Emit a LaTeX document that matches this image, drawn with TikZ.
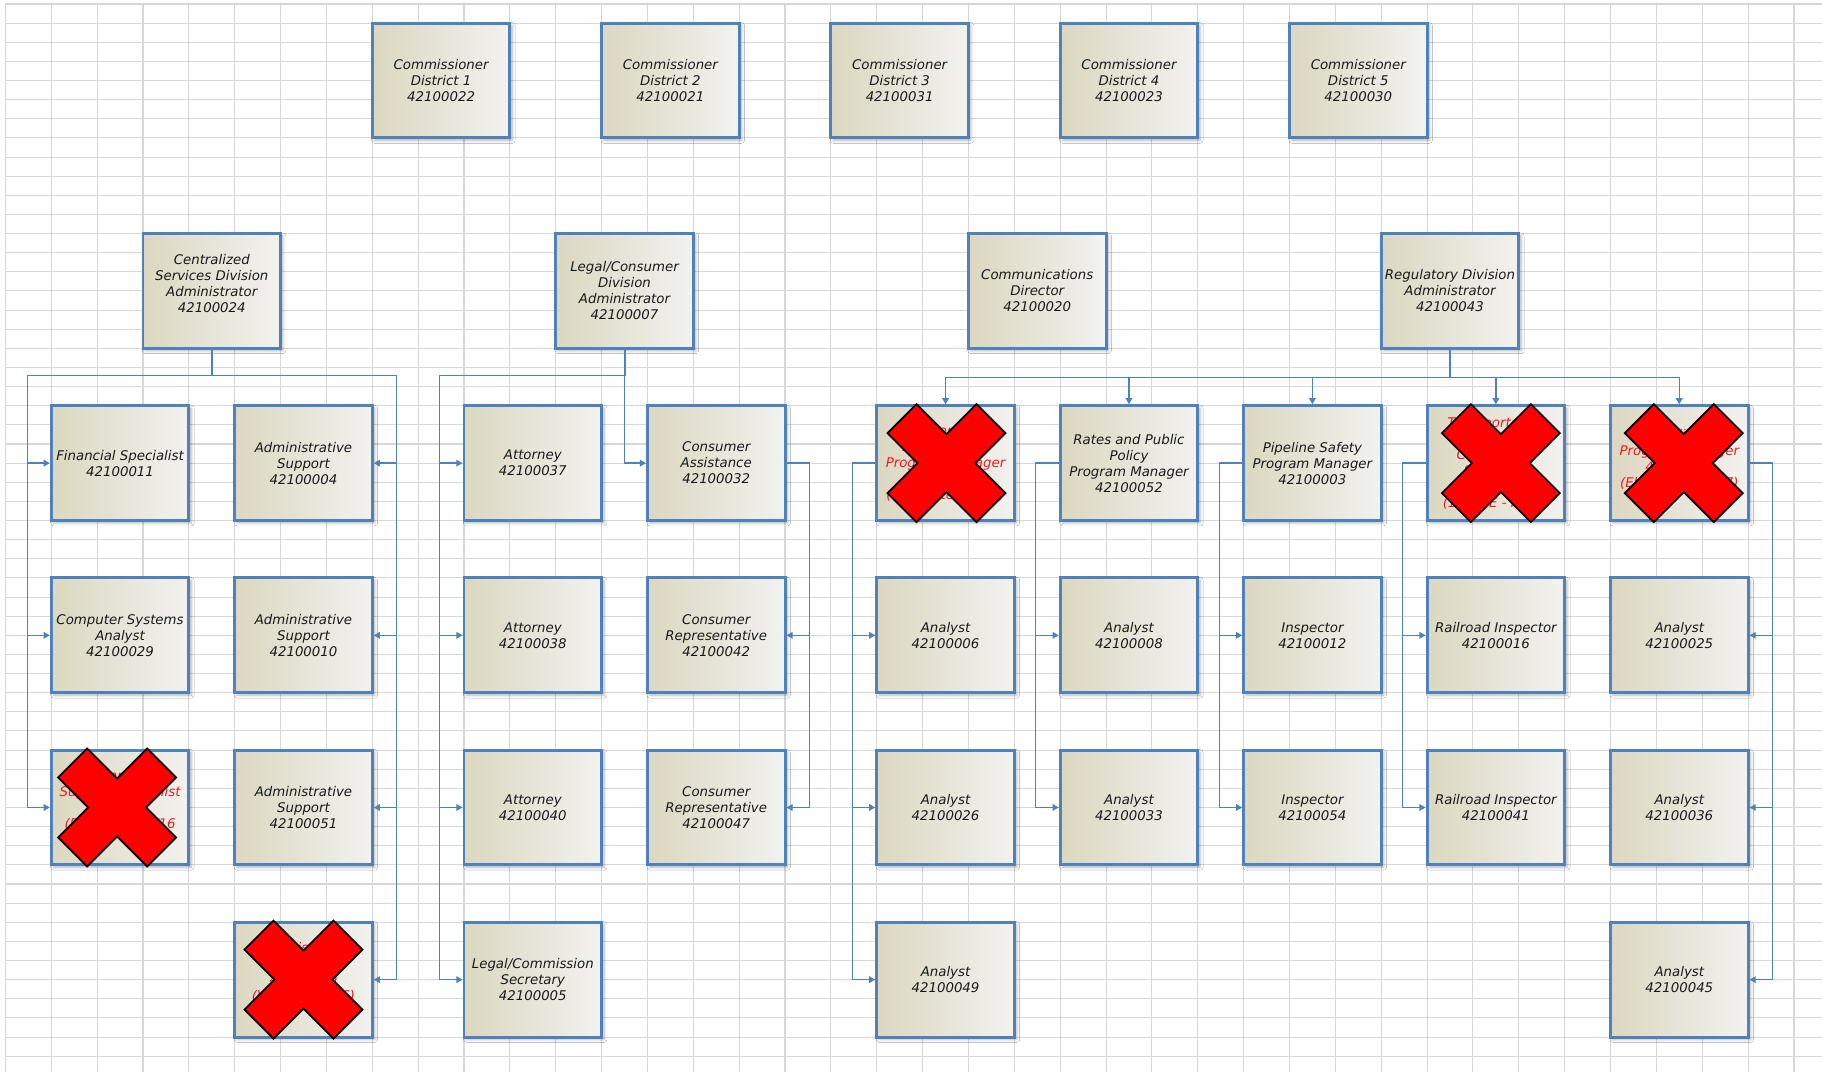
\documentclass[tikz,border=0pt]{standalone}
\usepackage{fontspec}
\setmainfont{DejaVu Sans}
\usetikzlibrary{arrows.meta,shadows.blur,calc}
\definecolor{bblue}{RGB}{79,129,189}
\definecolor{gridc}{RGB}{216,216,216}
\definecolor{tanL}{RGB}{219,215,192}
\definecolor{tanR}{RGB}{242,242,240}
\definecolor{txt}{RGB}{25,25,25}
\definecolor{xred}{RGB}{255,0,0}
\definecolor{rtxt}{RGB}{245,25,25}
\tikzset{
  orgbox/.style={draw=bblue, line width=2.2pt, left color=tanL, right color=tanR,
    minimum width=103.2pt, minimum height=86.1pt, inner sep=0pt, align=center,
    text=txt, font=\itshape\fontsize{10}{12}\selectfont,
    blur shadow={shadow xshift=1.8pt, shadow yshift=-1.8pt, shadow blur radius=2.2pt, shadow opacity=30}},
  redtext/.style={text=rtxt},
  gridline/.style={draw=gridc, line width=0.8pt},
  conn/.style={draw=bblue, line width=0.95pt},
  trunk/.style={draw=bblue, line width=1.5pt},
  arr/.style={conn, -{Triangle[length=4.6pt, width=5pt]}},
  xmark/.style={fill=xred, draw=black, line width=1.3pt, line join=miter},
}
\newcommand\mkbox[5][]{\node[orgbox,#1] (#2) at ({5.4+45.86*(#3+1.5)},{4+19.13*(#4+3)}) {#5};}
\newcommand\xmarkat[2]{\draw[xmark, shift={($(#1.center)+(#2,0)$)}] (-59,-30) -- (-30,-59) -- (0,-29) -- (30,-59) -- (59,-30) -- (29,0) -- (59,30) -- (30,59) -- (0,29) -- (-30,59) -- (-59,30) -- (-29,0) -- cycle;}
\begin{document}
\begin{tikzpicture}[x=0.75pt,y=-0.75pt]
\fill[white] (0,0) rectangle (1822,1072);
\useasboundingbox (0,0) rectangle (1822,1072);
% grid
\foreach \k in {0,...,39} \draw[gridline] ({5.4+45.86*\k},4) -- ({5.4+45.86*\k},1072);
\foreach \j in {0,...,55} \draw[gridline] (5.4,{4+19.13*\j}) -- (1822,{4+19.13*\j});

% commissioners
\mkbox{c1}{8}{1}{Commissioner\\District 1\\42100022}
\mkbox{c2}{13}{1}{Commissioner\\District 2\\42100021}
\mkbox{c3}{18}{1}{Commissioner\\District 3\\42100031}
\mkbox{c4}{23}{1}{Commissioner\\District 4\\42100023}
\mkbox{c5}{28}{1}{Commissioner\\District 5\\42100030}

% division heads
\mkbox{cen}{3}{12}{Centralized\\Services Division\\Administrator\\42100024\\ \mbox{}}
\mkbox{leg}{12}{12}{Legal/Consumer\\Division\\Administrator\\42100007}
\mkbox{com}{21}{12}{Communications\\Director\\42100020}
\mkbox{reg}{30}{12}{Regulatory Division\\Administrator\\42100043}

% centralized staff
\mkbox{a1}{1}{21}{Financial Specialist\\42100011}
\mkbox{a2}{1}{30}{Computer Systems\\Analyst\\42100029}
\mkbox[redtext]{a3}{1}{39}{Computer\\Support Specialist\\(vacant)\\(Effective 7/1/16\\ \mbox{}}
\mkbox{b1}{5}{21}{Administrative\\Support\\42100004}
\mkbox{b2}{5}{30}{Administrative\\Support\\42100010}
\mkbox{b3}{5}{39}{Administrative\\Support\\42100051}
\mkbox[redtext]{b4}{5}{48}{Administrative\\Support\\42100050\\(Vacant 7/1/16)\\ \mbox{}}

% legal staff
\mkbox{d1c}{10}{21}{Attorney\\42100037}
\mkbox{d2c}{10}{30}{Attorney\\42100038}
\mkbox{d3c}{10}{39}{Attorney\\42100040}
\mkbox{d4c}{10}{48}{Legal/Commission\\Secretary\\42100005}
\mkbox{ca1}{14}{21}{Consumer\\Assistance\\42100032}
\mkbox{ca2}{14}{30}{Consumer\\Representative\\42100042}
\mkbox{ca3}{14}{39}{Consumer\\Representative\\42100047}

% regulatory staff
\mkbox[redtext]{e1}{19}{21}{Energy\\Tech Services\\Program Manager\\42100044\\(Eliminated FY17)}
\mkbox{e2}{19}{30}{Analyst\\42100006}
\mkbox{e3}{19}{39}{Analyst\\42100026}
\mkbox{e4}{19}{48}{Analyst\\42100049}
\mkbox{f1}{23}{21}{Rates and Public\\Policy\\Program Manager\\42100052}
\mkbox{f2}{23}{30}{Analyst\\42100008}
\mkbox{f3}{23}{39}{Analyst\\42100033}
\mkbox{g1}{27}{21}{Pipeline Safety\\Program Manager\\42100003}
\mkbox{g2}{27}{30}{Inspector\\42100012}
\mkbox{g3}{27}{39}{Inspector\\42100054}
\mkbox[redtext]{h1}{31}{21}{Transportation\\Division\\Compliance\\Specialist\\42100039\\(1.0 FTE - FY17)}
\mkbox{h2}{31}{30}{Railroad Inspector\\42100016}
\mkbox{h3}{31}{39}{Railroad Inspector\\42100041}
\mkbox[redtext]{i1}{35}{21}{\mbox{}\\Utility\\Program Manager\\42100035\\(Eliminated FY17)\\ \mbox{}}
\mkbox{i2}{35}{30}{Analyst\\42100025}
\mkbox{i3}{35}{39}{Analyst\\42100036}
\mkbox{i4}{35}{48}{Analyst\\42100045}

% centralized connectors
\draw[trunk] (cen.south) -- ++(0,26) coordinate (cb);
\foreach \t in {a1,a2,a3} \draw[arr] (cb) -| ($(\t.west)+(-22.3,0)$) -- (\t.west);
\foreach \t in {b1,b2,b3,b4} \draw[arr] (cb) -| ($(\t.east)+(22.9,0)$) -- (\t.east);

% legal connectors
\draw[trunk] (leg.south) -- ++(0,26) coordinate (lb);
\foreach \t in {d1c,d2c,d3c,d4c} \draw[arr] (lb) -| ($(\t.west)+(-22.9,0)$) -- (\t.west);
\draw[arr] (lb) |- (ca1.west);
\foreach \t in {ca2,ca3} \draw[arr] (ca1.east) -- ++(22.9,0) |- (\t.east);

% regulatory connectors
\draw[trunk] (reg.south) -- ++(0,28) coordinate (rb);
\foreach \t in {e1,f1,g1,h1,i1} \draw[arr] (rb) -| (\t.north);
\foreach \t in {e2,e3,e4} \draw[arr] (e1.west) -- ++(-22.9,0) |- (\t.west);
\foreach \t in {f2,f3} \draw[arr] (f1.west) -- ++(-22.9,0) |- (\t.west);
\foreach \t in {g2,g3} \draw[arr] (g1.west) -- ++(-22.9,0) |- (\t.west);
\foreach \t in {h2,h3} \draw[arr] (h1.west) -- ++(-22.9,0) |- (\t.west);
\foreach \t in {i2,i3,i4} \draw[arr] (i1.east) -- ++(22.9,0) |- (\t.east);

% red crosses
\xmarkat{a3}{-3}
\xmarkat{b4}{0}
\xmarkat{e1}{1}
\xmarkat{h1}{5}
\xmarkat{i1}{4.5}
\end{tikzpicture}
\end{document}
